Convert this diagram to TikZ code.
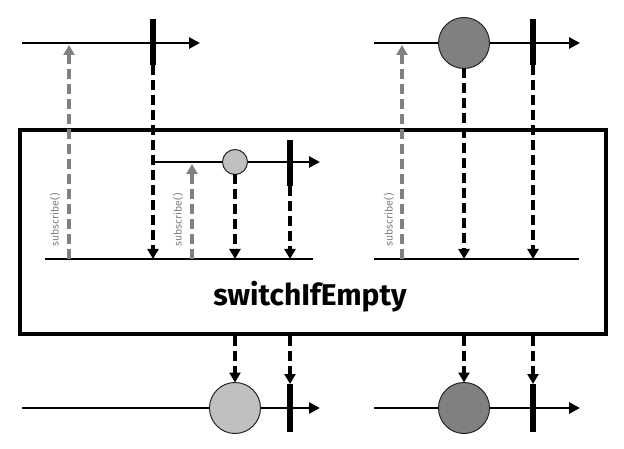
\documentclass[tikz,border=0pt]{standalone}
\usepackage{fontspec}
\setmainfont{Fira Sans}
\usetikzlibrary{arrows.meta,positioning}
\definecolor{subgray}{RGB}{128,128,128}
\definecolor{marblelight}{RGB}{192,192,192}
\definecolor{marbledark}{RGB}{128,128,128}
\tikzset{
  timeline/.style={line width=2.8pt,-{Triangle[length=11pt,width=11pt]}},
  flatline/.style={line width=2.8pt},
  tickbar/.style={rectangle,fill=black,minimum width=6pt,minimum height=46pt,inner sep=0pt,outer sep=0pt},
  marble/.style={circle,draw=black!85,line width=1pt,inner sep=0pt,outer sep=0pt},
  bigmarble/.style={marble,minimum size=51pt},
  smallmarble/.style={marble,minimum size=25pt},
  emitarr/.style={line width=3.4pt,dash pattern=on 10pt off 5pt,-{Triangle[length=10pt,width=11pt]}},
  subarr/.style={line width=3.4pt,color=subgray,dash pattern=on 10pt off 5pt,-{Triangle[length=10pt,width=11pt]}},
  sublabel/.style={rotate=90,text=subgray,font=\fontsize{10.5}{11}\selectfont,inner sep=0pt},
  opbox/.style={rectangle,draw,line width=4pt,inner sep=0pt}
}

\begin{document}
\begin{tikzpicture}[x=1pt,y=-1pt]
  \useasboundingbox (0,0) rectangle (624,449);

  %% operator box
  \node[opbox,minimum width=586pt,minimum height=204pt] (op) at (313,232) {};
  \node[font=\fontsize{30}{32}\selectfont\bfseries] (opname) at (310,297) {switchIfEmpty};

  %% timeline end points
  \coordinate (srcAa) at (22,43);   \coordinate (srcAb) at (200,43);
  \coordinate (srcBa) at (374,43);  \coordinate (srcBb) at (580,43);
  \coordinate (innAa) at (45,259);  \coordinate (innAb) at (313,259);
  \coordinate (altAa) at (153,162); \coordinate (altAb) at (320,162);
  \coordinate (innBa) at (374,259); \coordinate (innBb) at (579,259);
  \coordinate (outAa) at (22,408);  \coordinate (outAb) at (320,408);
  \coordinate (outBa) at (374,408); \coordinate (outBb) at (580,408);

  \draw[timeline] (srcAa) -- (srcAb);
  \draw[timeline] (srcBa) -- (srcBb);
  \draw[flatline] (innAa) -- (innAb);
  \draw[timeline] (altAa) -- (altAb);
  \draw[flatline] (innBa) -- (innBb);
  \draw[timeline] (outAa) -- (outAb);
  \draw[timeline] (outBa) -- (outBb);

  %% source: empty
  \node[tickbar] (srcAend) at (153,42) {};
  %% source: one value
  \node[bigmarble,fill=marbledark] (srcBval) at (464,43) {};
  \node[tickbar] (srcBend) at (533,42) {};
  %% alternative inside the box
  \node[smallmarble,fill=marblelight] (altval) at (235,162) {};
  \node[tickbar] (altend) at (290,163) {};
  %% outputs
  \node[bigmarble,fill=marblelight] (outAval) at (235,408) {};
  \node[tickbar,minimum height=48pt] (outAend) at (290,408) {};
  \node[bigmarble,fill=marbledark] (outBval) at (464,408) {};
  \node[tickbar,minimum height=48pt] (outBend) at (533,408) {};

  %% subscribe() arrows
  \coordinate (subAf) at (69,259);  \coordinate (subAt) at (69,45);
  \coordinate (subCf) at (192,259); \coordinate (subCt) at (192,164);
  \coordinate (subBf) at (402,259); \coordinate (subBt) at (402,45);
  \draw[subarr] (subAf) -- (subAt);
  \draw[subarr] (subCf) -- (subCt);
  \draw[subarr] (subBf) -- (subBt);
  \node[sublabel] (subAlbl) at (55,220) {subscribe()};
  \node[sublabel] (subClbl) at (178,220) {subscribe()};
  \node[sublabel] (subBlbl) at (389,220) {subscribe()};

  %% signals into the operator
  \draw[emitarr] (srcAend.south) -- (srcAend.south |- innAa);
  \draw[emitarr] (altval.south) -- (altval.south |- innAa);
  \draw[emitarr] (altend.south) -- (altend.south |- innAa);
  \draw[emitarr] (srcBval.south) -- (srcBval.south |- innBa);
  \draw[emitarr] (srcBend.south) -- (srcBend.south |- innBa);

  %% signals out of the operator
  \draw[emitarr] (outAval.north |- op.south) -- (outAval.north);
  \draw[emitarr] (outAend.north |- op.south) -- (outAend.north);
  \draw[emitarr] (outBval.north |- op.south) -- (outBval.north);
  \draw[emitarr] (outBend.north |- op.south) -- (outBend.north);
\end{tikzpicture}
\end{document}
